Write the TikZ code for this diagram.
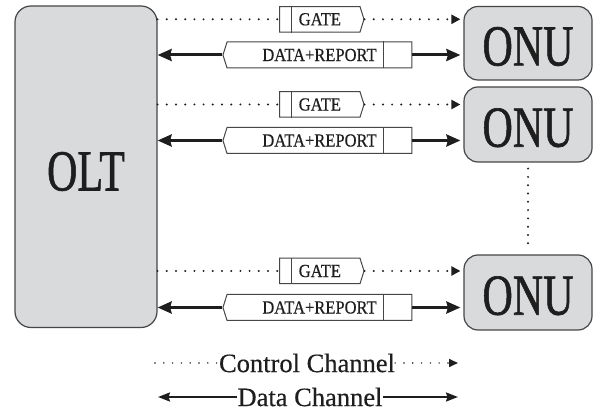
\documentclass[tikz,border=0pt]{standalone}
\usepackage{fontspec}
\setmainfont{Liberation Serif}
\newfontfamily\tnr[FakeBold=0.4]{Liberation Serif}
\newfontfamily\tnrbig[FakeBold=1.2]{Liberation Serif}
\usepackage{graphicx}
\usetikzlibrary{arrows.meta,shapes.symbols}
\definecolor{boxfill}{RGB}{217,218,220}
\definecolor{boxline}{RGB}{70,70,70}
\definecolor{ink}{RGB}{30,30,30}
\begin{document}
\begin{tikzpicture}[x=1pt,y=-1pt,
 big/.style={draw=boxline,fill=boxfill,line width=1.2pt,rounded corners=14pt,inner sep=0pt},
 bigtext/.style={text=ink,font=\tnrbig\fontsize{42}{42}\selectfont,inner sep=0pt},
 pkt/.style={draw=boxline,line width=1pt,fill=white,shape=signal,signal pointer angle=145,inner sep=0pt,minimum height=25.5pt,text=ink,font=\tnr\fontsize{16.5}{16.5}\selectfont},
 pktline/.style={draw=boxline,line width=1pt},
 ctrl/.style={line width=2.2pt,dash pattern=on 0pt off 9.2pt,line cap=round,draw=ink},
 ctrlarr/.style={ctrl,-{Triangle[length=9pt,width=9pt]}},
 dat/.style={line width=3pt,draw=ink,-{Stealth[length=14pt,width=12pt,inset=1.5pt]}},
 vdots/.style={line width=2.2pt,dash pattern=on 0pt off 8.3pt,line cap=round,draw=ink},
 legtext/.style={text=ink,font=\tnr\fontsize{26.5}{26.5}\selectfont,inner sep=0pt},
 legdots/.style={line width=1.6pt,dash pattern=on 0pt off 8.8pt,line cap=round,draw=ink},
 legline/.style={line width=2pt,draw=ink,-{Stealth[length=12pt,width=9pt,inset=1.5pt]}},
]
\useasboundingbox (0,0) rectangle (595,411);
\fill[white] (0,0) rectangle (595,411);

% main boxes
\node[big,rounded corners=16pt,minimum width=142pt,minimum height=321.5pt,
  label={[bigtext,yshift=-4.75pt]center:\scalebox{1}[1.38]{OLT}}] (olt) at (86,166.75) {};
\node[big,minimum width=128pt,minimum height=73.5pt,
  label={[bigtext,yshift=-3.25pt]center:\scalebox{1}[1.38]{ONU}}] (onu1) at (528,43.25) {};
\node[big,minimum width=128pt,minimum height=75pt,
  label={[bigtext,yshift=-3.25pt]center:\scalebox{1}[1.38]{ONU}}] (onu2) at (528,124.5) {};
\node[big,minimum width=128pt,minimum height=75pt,
  label={[bigtext,yshift=-3.25pt]center:\scalebox{1}[1.38]{ONU}}] (onu3) at (528,292.5) {};

\draw[vdots] ([yshift=-6pt]onu2.south) -- ([yshift=8pt]onu3.north);

% packets
\foreach \i/\gy/\dy in {1/19.3/55, 2/104.5/140.5, 3/271/307.5}{
  \node[pkt,signal to=east,minimum width=84.3pt] (g\i) at (319.85,\gy) {\scalebox{1}[1.12]{GATE}};
  \draw[pktline] ([xshift=12.3pt]g\i.west |- g\i.north) -- ([xshift=12.3pt]g\i.west |- g\i.south);
  \node[pkt,signal to=west,minimum width=189pt,minimum height=26pt] (d\i) at (319.5,\dy) {\scalebox{1}[1.12]{DATA+REPORT}};
  \draw[pktline] ([xshift=-29pt]d\i.east |- d\i.north) -- ([xshift=-29pt]d\i.east |- d\i.south);
  \draw[ctrl] (olt.east |- g\i) -- (g\i.west);
  \draw[ctrlarr,shorten >=3pt] (g\i.east) -- (onu\i.west |- g\i);
  \draw[dat] (d\i.west) -- (olt.east |- d\i);
  \draw[dat,shorten >=3pt] (d\i.east) -- (onu\i.west |- d\i);
}

% legend
\node[legtext] (cc) at (307,363) {Control Channel};
\node[legtext] (dc) at (310,397) {Data Channel};
\coordinate (cl) at (155,363);
\coordinate (cr) at (458,363);
\coordinate (dl) at (158,397);
\coordinate (dr) at (458,397);
\draw[legdots] (cl) -- (cc.west);
\draw[legdots,-{Triangle[length=9pt,width=8pt]}] (cc.east) -- (cr);
\draw[legline] (dc.west) -- (dl);
\draw[legline] (dc.east) -- (dr);
\end{tikzpicture}
\end{document}
